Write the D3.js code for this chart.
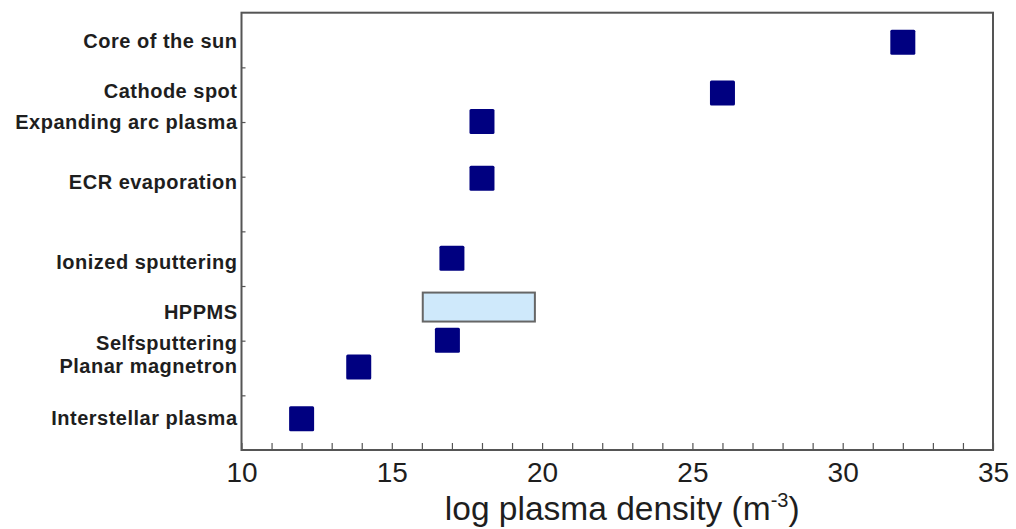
<!DOCTYPE html>
<html>
<head>
<meta charset="utf-8">
<script src="https://cdn.jsdelivr.net/npm/d3@7/dist/d3.min.js"></script>
<style>
  html, body { margin: 0; padding: 0; background: #fff; }
  svg { display: block; }
</style>
</head>
<body>
<svg id="chart" width="1016" height="529"></svg>
<script>
// Plasma sources: log10 of density (m^-3) and their row on the category axis
const categories = [
  "Core of the sun", "Cathode spot", "Expanding arc plasma", "ECR evaporation",
  "Ionized sputtering", "HPPMS", "Selfsputtering", "Planar magnetron", "Interstellar plasma"
];
// Row position of each category label (0 = bottom, 8 = top)
const labelRows = [7.48, 6.57, 6.0, 4.9, 3.44, 2.52, 1.97, 1.54, 0.59];
// Row position of each marker
const markerRows = [7.46, 6.53, 6.01, 4.97, 3.51, null, 2.01, 1.52, 0.57];
// Single-value densities (null for ranged entries)
const densities = [32, 26, 18, 18, 17, null, 16.85, 13.9, 12];
// Ranged entry: HPPMS spans a density interval and a row band
const rangeLow = [16.03];
const rangeHigh = [19.76];
const rangeRowLow = [2.35];
const rangeRowHigh = [2.88];
const rangeIndex = [5];
// Axis ticks
const xMajorTicks = [10, 15, 20, 25, 30, 35];
const xMinorTicks = d3.range(10, 36, 1);
const yTicks = [1, 2, 3, 4, 5, 6, 7];

const svg = d3.select("#chart");
const plotLeft = 241.5, plotRight = 993, plotTop = 12.7, plotBottom = 450;

const x = d3.scaleLinear().domain([10, 35]).range([plotLeft, plotRight]);
const y = d3.scaleLinear().domain([0, 8]).range([plotBottom, plotTop]);

const axisColor = "#555";
const textColor = "#1e1e1e";

// X axis with inward ticks every unit, labels every five
const xAxis = d3.axisBottom(x)
  .tickValues(xMinorTicks)
  .tickSize(-7)
  .tickPadding(12)
  .tickFormat(d => xMajorTicks.includes(d) ? d : "");
const gx = svg.append("g")
  .attr("transform", `translate(0,${plotBottom})`)
  .call(xAxis);
gx.select(".domain").remove();
gx.selectAll(".tick line").attr("stroke", axisColor).attr("stroke-width", 1.2);
gx.selectAll(".tick text")
  .attr("fill", textColor)
  .style("font-family", "'Liberation Sans', Arial, sans-serif")
  .style("font-size", "28px");

// Left axis: inward ticks, no numeric labels
const yAxis = d3.axisLeft(y).tickValues(yTicks).tickSize(-4).tickFormat("");
const gy = svg.append("g")
  .attr("transform", `translate(${plotLeft},0)`)
  .call(yAxis);
gy.select(".domain").remove();
gy.selectAll(".tick line").attr("stroke", axisColor).attr("stroke-width", 1.2);

// Plot frame
svg.append("rect")
  .attr("x", plotLeft).attr("y", plotTop)
  .attr("width", plotRight - plotLeft).attr("height", plotBottom - plotTop)
  .attr("fill", "none")
  .attr("stroke", axisColor)
  .attr("stroke-width", 2);

// Category labels
svg.append("g")
  .selectAll("text")
  .data(categories)
  .join("text")
  .attr("x", plotLeft - 4)
  .attr("y", (d, i) => y(labelRows[i]))
  .attr("dy", "0.36em")
  .attr("text-anchor", "end")
  .attr("fill", textColor)
  .style("font-family", "'Liberation Sans', Arial, sans-serif")
  .style("font-weight", "bold")
  .style("font-size", "20px")
  .style("letter-spacing", "0.5px")
  .text(d => d);

// HPPMS range box
svg.append("g")
  .selectAll("rect")
  .data(rangeIndex)
  .join("rect")
  .attr("x", (d, i) => x(rangeLow[i]))
  .attr("y", (d, i) => y(rangeRowHigh[i]))
  .attr("width", (d, i) => x(rangeHigh[i]) - x(rangeLow[i]))
  .attr("height", (d, i) => y(rangeRowLow[i]) - y(rangeRowHigh[i]))
  .attr("fill", "#cfe9fb")
  .attr("stroke", "#666")
  .attr("stroke-width", 2);

// Square markers
const size = 25;
const points = categories
  .map((c, i) => ({ c, v: densities[i], r: markerRows[i] }))
  .filter(p => p.v !== null);
svg.append("g")
  .selectAll("rect")
  .data(points)
  .join("rect")
  .attr("x", d => x(d.v) - size / 2)
  .attr("y", d => y(d.r) - size / 2)
  .attr("width", size)
  .attr("height", size)
  .attr("rx", 1.5)
  .attr("fill", "#000080");

// X axis title with superscript
const title = svg.append("text")
  .attr("x", (plotLeft + plotRight) / 2 + 5)
  .attr("y", 520)
  .attr("text-anchor", "middle")
  .attr("fill", textColor)
  .style("font-family", "'Liberation Sans', Arial, sans-serif")
  .style("font-size", "33.5px");
title.append("tspan").text("log plasma density (m");
title.append("tspan").attr("dy", -13).style("font-size", "20px").text("-3");
title.append("tspan").attr("dy", 13).text(")");
</script>
</body>
</html>
